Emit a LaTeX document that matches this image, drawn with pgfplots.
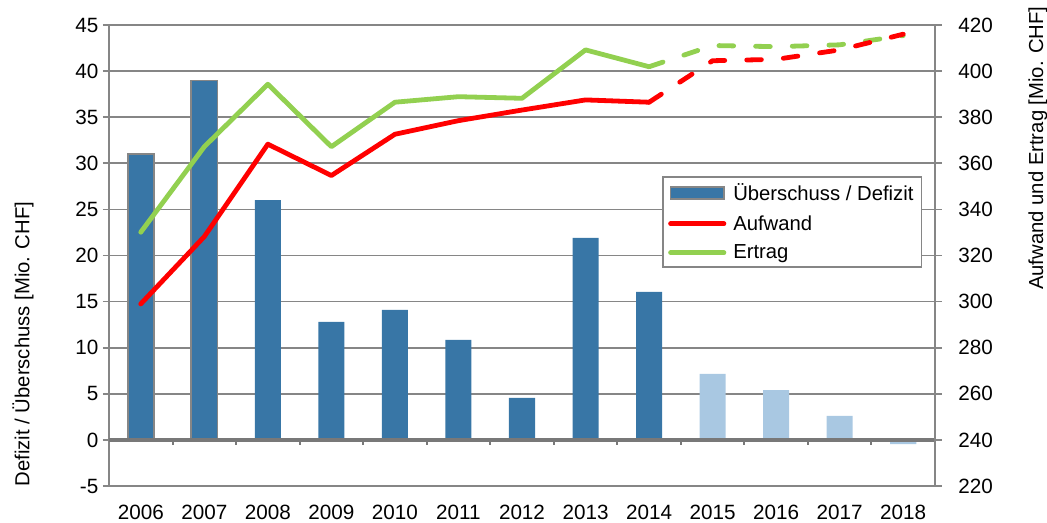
\documentclass[border=0pt]{standalone}
\usepackage{fontspec}
\setmainfont{Liberation Sans}
\usepackage{pgfplots}
\pgfplotsset{compat=1.18}
\definecolor{barblue}{RGB}{56,118,166}
\definecolor{barlight}{RGB}{169,200,226}
\definecolor{gridgray}{RGB}{134,134,134}
\definecolor{zerogray}{RGB}{120,120,120}
\definecolor{ertrag}{RGB}{146,208,80}
\newcommand{\tickfont}{\fontsize{15.5}{18}\selectfont}
\newcommand{\txtfont}{\fontsize{15.2}{18}\selectfont}
\pgfplotsset{
  barlegend/.style={legend image code/.code={\path[draw=none,fill=none] (0pt,-5pt) rectangle (45pt,5pt); \draw[fill=barblue,draw=gridgray,line width=1.2pt] (0pt,-4.5pt) rectangle (40pt,4.5pt);}},
  redlegend/.style={legend image code/.code={\path[draw=none,fill=none] (0pt,-2pt) rectangle (45pt,2pt); \draw[red,line width=3.6pt,line cap=round] (0pt,0pt) -- (40pt,0pt);}},
  greenlegend/.style={legend image code/.code={\path[draw=none,fill=none] (0pt,-2pt) rectangle (45pt,2pt); \draw[ertrag,line width=3.6pt,line cap=round] (0pt,0pt) -- (40pt,0pt);}},
}
\begin{document}
\begin{tikzpicture}
\begin{axis}[
  name=ax,
  scale only axis, width=619.5pt, height=345.75pt,
  xmin=-0.5, xmax=12.5, ymin=-5, ymax=45,
  axis x line*=bottom, axis y line*=left,
  x axis line style={gridgray, line width=1.3pt, -},
  y axis line style={gridgray, line width=1.3pt, -},
  xtick={0,...,12},
  xticklabels={2006,2007,2008,2009,2010,2011,2012,2013,2014,2015,2016,2017,2018},
  major x tick style={draw=none},
  ytick={-5,0,...,45},
  ymajorgrids,
  grid style={gridgray, line width=1.3pt},
  tick align=outside,
  major tick length=4.5pt,
  ytick style={gridgray, line width=1.3pt},
  /pgf/number format/assume math mode=true,
  ticklabel style={font=\tickfont, black},
  xticklabel style={yshift=-6pt},
  ylabel={Defizit / Überschuss [Mio. CHF]},
  ylabel style={at={(rel axis cs:-0.104,0.308)}, anchor=center, font=\txtfont},
]
\addplot[ybar, bar width=0.41, bar shift=0pt, fill=barblue, draw=gridgray, line width=1.2pt] coordinates {(0,31) (1,39)};
\addplot[ybar, bar width=0.41, bar shift=0pt, fill=barblue, draw=none] coordinates {(2,26) (3,12.8) (4,14.1) (5,10.85) (6,4.55) (7,21.9) (8,16.05)};
\addplot[ybar, bar width=0.41, bar shift=0pt, fill=barlight, draw=none] coordinates {(9,7.15) (10,5.4) (11,2.6) (12,-0.45)};
\draw[zerogray, line width=2.4pt] (axis cs:-0.5,0) -- (axis cs:12.5,0);
\pgfplotsinvokeforeach{0.5,1.5,2.5,3.5,4.5,5.5,6.5,7.5,8.5,9.5,10.5,11.5}{
  \draw[zerogray, line width=1.5pt] (axis cs:#1,0) -- ++(0pt,-4pt);
}
\end{axis}
\begin{axis}[
  scale only axis, width=619.5pt, height=345.75pt,
  xmin=-0.5, xmax=12.5, ymin=220, ymax=420,
  axis x line=none, axis y line*=right,
  y axis line style={gridgray, line width=1.3pt, -},
  ytick={220,240,...,420},
  tick align=outside,
  major tick length=5pt,
  ytick style={gridgray, line width=1.3pt},
  /pgf/number format/assume math mode=true,
  ticklabel style={font=\tickfont, black},
  yticklabel style={xshift=9pt},
  ylabel={Aufwand und Ertrag [Mio. CHF]},
  ylabel style={at={(rel axis cs:1.1247,0.733)}, anchor=center, font=\txtfont},
  legend style={at={(rel axis cs:0.6695,0.672)}, anchor=north west, draw=gridgray, line width=1.3pt, fill=white, font=\txtfont, row sep=5.5pt, inner xsep=4pt, inner ysep=3pt},
  legend cell align=left,
]
\addlegendimage{barlegend}
\addlegendentry{Überschuss / Defizit}
\addlegendimage{redlegend}
\addlegendentry{Aufwand}
\addlegendimage{greenlegend}
\addlegendentry{Ertrag}
\addplot[forget plot, ertrag, line width=3.6pt, line join=round, line cap=round] coordinates {(0,330.1) (1,367.2) (2,394.3) (3,367.2) (4,386.5) (5,388.9) (6,388.2) (7,409.2) (8,401.9)};
\addplot[forget plot, ertrag, line width=3.6pt, line cap=round, dash pattern=on 11pt off 16.5pt] coordinates {(8,401.9) (9,411.1) (10,410.6) (11,411.4) (12,415.4)};
\addplot[forget plot, red, line width=3.6pt, line join=round, line cap=round] coordinates {(0,299) (1,328.2) (2,368.3) (3,354.7) (4,372.6) (5,378.5) (6,383.1) (7,387.5) (8,386.5)};
\addplot[forget plot, red, line width=3.6pt, line cap=round, dash pattern=on 11pt off 16.5pt] coordinates {(8,386.5) (9,404.5) (10,405.1) (11,409.2) (12,416)};
\end{axis}
\pgfresetboundingbox
\path (ax.south west) ++(-81.75pt,-27pt) rectangle ++(785.25pt,391.5pt);
\end{tikzpicture}
\end{document}
